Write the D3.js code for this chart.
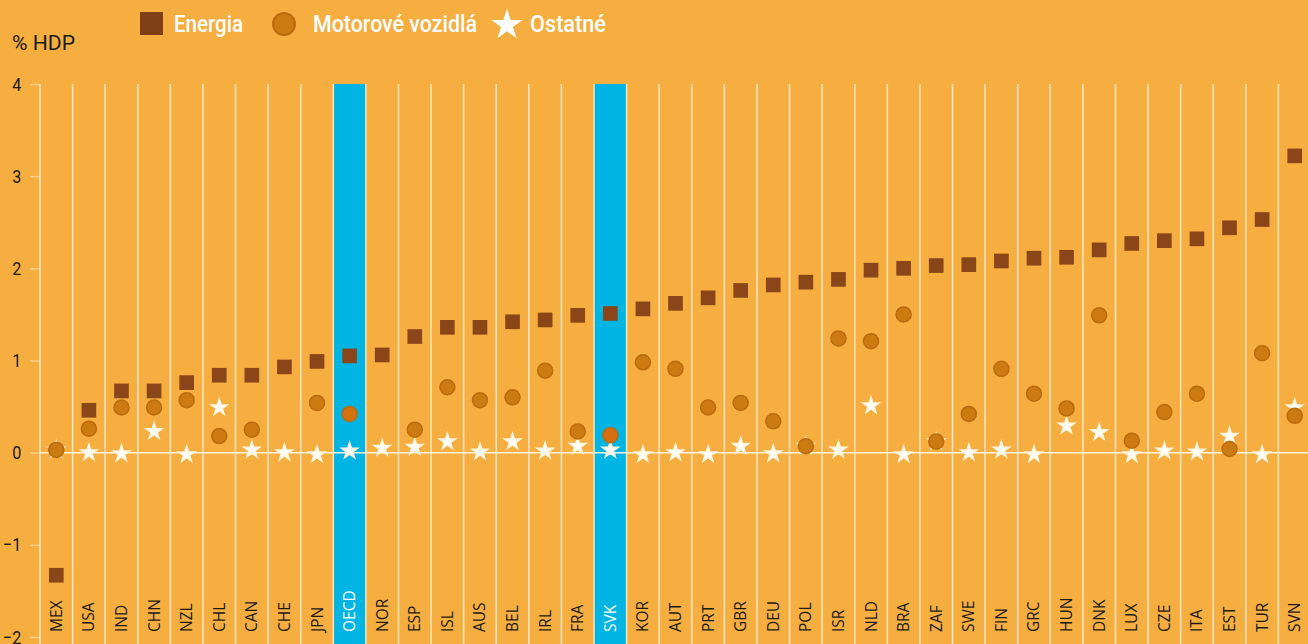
<!DOCTYPE html>
<html>
<head>
<meta charset="utf-8">
<script src="https://cdn.jsdelivr.net/npm/d3@7"></script>
<style>
  html, body { margin: 0; padding: 0; background: #F6AE40; }
  svg { display: block; }
</style>
</head>
<body>
<svg id="chart"></svg>
<script>
// countries in the order of the chart
const countries = ['MEX','USA','IND','CHN','NZL','CHL','CAN','CHE','JPN','OECD','NOR','ESP','ISL','AUS','BEL','IRL','FRA','SVK','KOR','AUT','PRT','GBR','DEU','POL','ISR','NLD','BRA','ZAF','SWE','FIN','GRC','HUN','DNK','LUX','CZE','ITA','EST','TUR','SVN'];
const highlighted = ['OECD', 'SVK'];

// % HDP
const energia = [-1.33,0.46,0.67,0.67,0.76,0.84,0.84,0.93,0.99,1.05,1.06,1.26,1.36,1.36,1.42,1.44,1.49,1.51,1.56,1.62,1.68,1.76,1.82,1.85,1.88,1.98,2.0,2.03,2.04,2.08,2.11,2.12,2.2,2.27,2.3,2.32,2.44,2.53,3.22];
const motorove = [0.03,0.26,0.49,0.49,0.57,0.18,0.25,null,0.54,0.42,null,0.25,0.71,0.57,0.6,0.89,0.23,0.19,0.98,0.91,0.49,0.54,0.34,0.07,1.24,1.21,1.5,0.12,0.42,0.91,0.64,0.48,1.49,0.13,0.44,0.64,0.04,1.08,0.4];
const ostatne = [0.03,0.0,-0.01,0.23,-0.02,0.49,0.03,0.0,-0.02,0.02,0.05,0.06,0.12,0.01,0.12,0.02,0.07,0.03,-0.02,0.0,-0.02,0.07,-0.01,0.07,0.03,0.51,-0.02,0.12,0.0,0.03,-0.02,0.29,0.22,-0.02,0.02,0.01,0.18,-0.02,0.49];

const yTicks = [4, 3, 2, 1, 0, -1, -2];
const legendItems = ['Energia', 'Motorové vozidlá', 'Ostatné'];

const W = 1308, H = 644;
const bg = '#F6AE40';
const colEnergia = '#8A4518';
const colMotor = '#CC7A12';
const colBlue = '#00B5E4';
const narrow = '"Roboto", "Liberation Sans", sans-serif';

const svg = d3.select('#chart').attr('width', W).attr('height', H);
svg.append('rect').attr('width', W).attr('height', H).attr('fill', bg);

const x = d3.scaleBand().domain(countries).range([40, 1311]).padding(0);
const y = d3.scaleLinear().domain([-2, 4]).range([637, 84]);
const cx = d => x(d) + x.bandwidth() / 2;

// highlighted columns
svg.selectAll('.hl')
  .data(highlighted)
  .enter()
  .append('rect')
  .attr('class', 'hl')
  .attr('x', d => x(d))
  .attr('y', y(4))
  .attr('width', x.bandwidth())
  .attr('height', H - y(4))
  .attr('fill', colBlue);

// vertical separators
svg.selectAll('.sep')
  .data(countries.slice(1))
  .enter()
  .append('line')
  .attr('class', 'sep')
  .attr('x1', d => x(d)).attr('x2', d => x(d))
  .attr('y1', y(4)).attr('y2', H)
  .attr('stroke', '#FCE6C4')
  .attr('stroke-width', 1.5);

// y axis
const yAxis = svg.append('g')
  .attr('transform', 'translate(40,0)')
  .call(d3.axisLeft(y).tickValues(yTicks).tickFormat(d3.format('d')).tickSize(10).tickPadding(8));
yAxis.select('.domain').remove();
yAxis.selectAll('.tick line').attr('stroke', '#F9CE8A').attr('stroke-width', 1.5);
yAxis.selectAll('.tick text')
  .attr('fill', '#1a1a1a')
  .attr('transform', 'translate(-22,0) scale(0.85,1) translate(22,0)')
  .style('font-family', narrow)
  .style('font-size', '19px');

svg.append('line')
  .attr('x1', 40).attr('x2', 40)
  .attr('y1', y(4)).attr('y2', H)
  .attr('stroke', '#FCE6C4').attr('stroke-width', 1.5);

// zero line
svg.append('line')
  .attr('x1', 40).attr('x2', W)
  .attr('y1', y(0)).attr('y2', y(0))
  .attr('stroke', '#FFF3E0').attr('stroke-width', 1.5);

svg.append('text')
  .attr('x', 12).attr('y', 50)
  .attr('textLength', 63).attr('lengthAdjust', 'spacingAndGlyphs')
  .style('font-family', narrow)
  .style('font-size', '20px')
  .attr('fill', '#1a1a1a')
  .text('% HDP');

// x labels
svg.selectAll('.xl')
  .data(countries)
  .enter()
  .append('text')
  .attr('class', 'xl')
  .attr('transform', d => `translate(${cx(d) + 5.5},632) rotate(-90)`)
  .attr('text-anchor', 'start')
  .style('font-family', '"Open Sans", "Noto Sans", sans-serif')
  .style('font-size', '15.5px')
  .attr('fill', d => highlighted.includes(d) ? '#ffffff' : '#1a1a1a')
  .text(d => d);

const star = d3.symbol().type(d3.symbolStar).size(80);
const square = d3.symbol().type(d3.symbolSquare).size(215);

// Ostatne (stars)
svg.selectAll('.star')
  .data(countries.map((c, i) => ({ c, v: ostatne[i] })).filter(d => d.v !== null))
  .enter()
  .append('path')
  .attr('d', star)
  .attr('transform', d => `translate(${cx(d.c)},${y(d.v)})`)
  .attr('fill', '#ffffff')
  .attr('stroke', '#FFF4DC')
  .attr('stroke-width', 1.5);

// Motorove vozidla (circles)
svg.selectAll('.motor')
  .data(countries.map((c, i) => ({ c, v: motorove[i] })).filter(d => d.v !== null))
  .enter()
  .append('circle')
  .attr('cx', d => cx(d.c))
  .attr('cy', d => y(d.v))
  .attr('r', 7.5)
  .attr('fill', d => highlighted.includes(d.c) ? '#D4700E' : colMotor)
  .attr('stroke', '#BC6A0E')
  .attr('stroke-width', 1.5);

// Energia (squares)
svg.selectAll('.energia')
  .data(countries.map((c, i) => ({ c, v: energia[i] })))
  .enter()
  .append('path')
  .attr('d', square)
  .attr('transform', d => `translate(${cx(d.c)},${y(d.v)})`)
  .attr('fill', colEnergia);

// legend
const legend = svg.append('g');
legend.append('rect').attr('x', 140).attr('y', 12).attr('width', 23).attr('height', 23).attr('fill', '#7E3F14');
legend.append('circle').attr('cx', 284).attr('cy', 24).attr('r', 11).attr('fill', colMotor).attr('stroke', '#BC6A0E').attr('stroke-width', 2);
legend.append('path').attr('d', d3.symbol().type(d3.symbolStar).size(300)).attr('transform', 'translate(507,25)').attr('fill', '#ffffff');
const legendX = [174, 313, 530];
const legendLen = [69, 164, 76];
legend.selectAll('.lt')
  .data(legendItems)
  .enter()
  .append('text')
  .attr('class', 'lt')
  .attr('x', (d, i) => legendX[i])
  .attr('y', 32)
  .attr('textLength', (d, i) => legendLen[i])
  .attr('lengthAdjust', 'spacingAndGlyphs')
  .attr('fill', '#ffffff')
  .style('font-family', narrow)
  .style('font-size', '23px')
  .style('font-weight', '500')
  .text(d => d);
</script>
</body>
</html>
